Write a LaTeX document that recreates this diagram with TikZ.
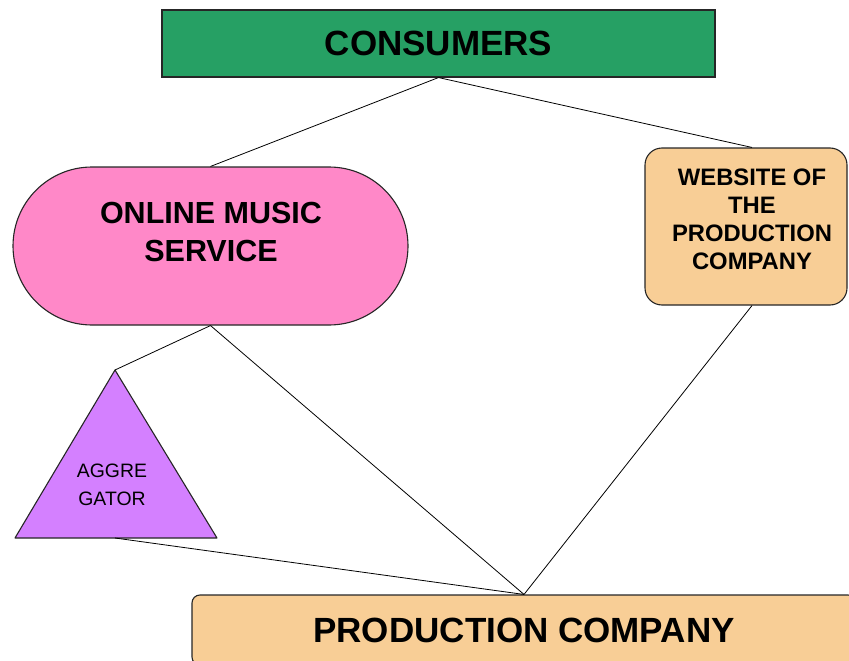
\documentclass[tikz,border=0pt]{standalone}
\usepackage{fontspec}
\setmainfont{Liberation Sans}
\definecolor{consgreen}{RGB}{38,160,100}
\definecolor{servpink}{RGB}{255,136,200}
\definecolor{prodtan}{RGB}{248,206,150}
\definecolor{aggpurple}{RGB}{212,128,255}
\begin{document}
\begin{tikzpicture}[x=1pt,y=-1pt,
  shapebox/.style={draw=black!85, line width=1.1pt, inner sep=0pt},
  link/.style={draw=black, line width=0.8pt},
  bigtext/.style={font=\fontsize{35}{40}\selectfont\bfseries},
  midtext/.style={font=\fontsize{30.5}{38}\selectfont\bfseries, align=center},
  smalltext/.style={font=\fontsize{23.8}{28}\selectfont\bfseries, align=center},
  tinytext/.style={font=\fontsize{19.4}{28}\selectfont, align=center}]
\useasboundingbox (0,0) rectangle (849,661);
\clip (0,0) rectangle (849,661);

% consumers bar
\node[shapebox, fill=consgreen, minimum width=553pt, minimum height=67pt,
      bigtext] (cons) at (438.5,43.5) {CONSUMERS};

% online music service (stadium)
\node[shapebox, fill=servpink, rounded corners=79pt,
      minimum width=395pt, minimum height=158pt] (oms) at (210.5,246) {};
\node[midtext] (omstext) at (211,232) {ONLINE MUSIC\\SERVICE};

% website of the production company
\node[shapebox, fill=prodtan, rounded corners=17pt,
      minimum width=202pt, minimum height=157pt] (web) at (746,226.5) {};
\node[smalltext] (webtext) at (752,219) {WEBSITE OF\\THE\\PRODUCTION\\COMPANY};

% aggregator triangle
\coordinate (agtop) at (115,370);
\coordinate (agleft) at (15,538);
\coordinate (agright) at (217,538);
\coordinate (agbase) at (115,538);
\filldraw[fill=aggpurple, draw=black!85, line width=1.1pt, line join=round]
  (agtop) -- (agright) -- (agleft) -- cycle;
\node[tinytext] (agtext) at (112,485) {AGGRE\\GATOR};

% production company bar
\node[shapebox, fill=prodtan, rounded corners=8pt,
      minimum width=664pt, minimum height=70pt, bigtext] (prod) at (524,630)
      {PRODUCTION COMPANY};

% connectors
\draw[link] (cons.south) -- (oms.north);
\draw[link] (cons.south) -- ([xshift=6pt]web.north);
\draw[link] (oms.south) -- (agtop);
\draw[link] (oms.south) -- (prod.north);
\draw[link] ([xshift=6pt]web.south) -- (prod.north);
\draw[link] (agbase) -- (prod.north);
\end{tikzpicture}
\end{document}
